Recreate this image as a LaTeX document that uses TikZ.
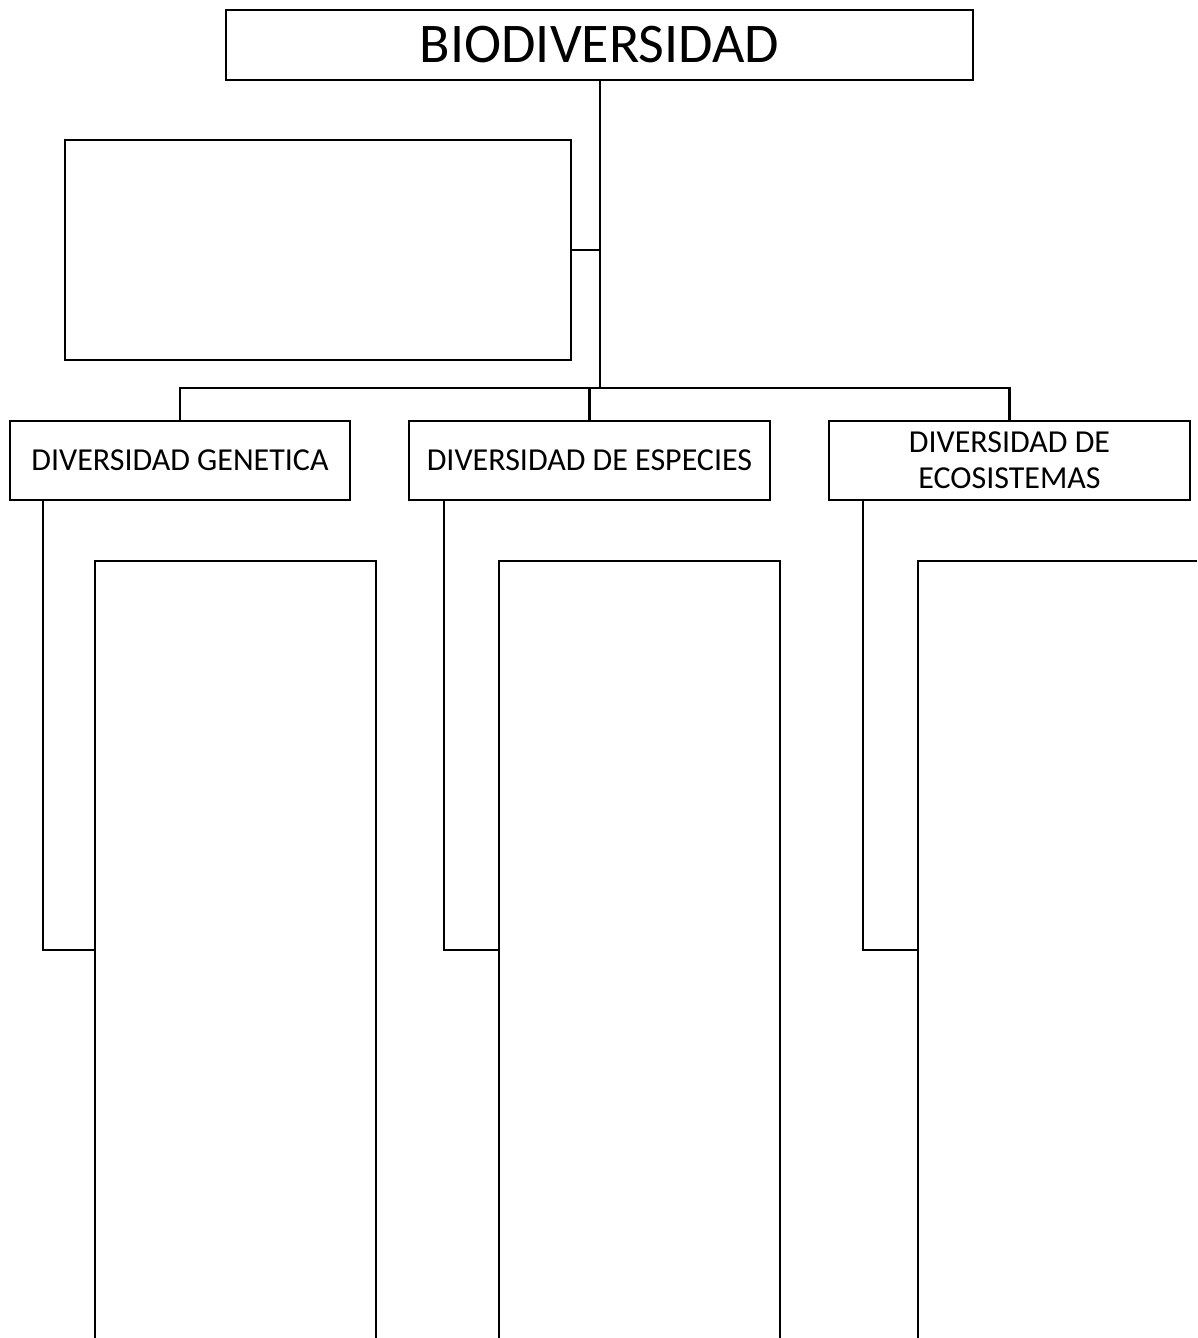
\documentclass[tikz,border=0pt]{standalone}
\usepackage{fontspec}
\setmainfont{Carlito}
\begin{document}
\begin{tikzpicture}[x=1pt,y=-1pt,
  ln/.style={line width=2.2pt,black},
  bx/.style={draw,ln,inner sep=0pt,anchor=center},
  small/.style={font=\fontsize{32}{36}\selectfont,align=center}]
\useasboundingbox (0,0) rectangle (1197,1338);
% top
\node[bx,minimum width=747,minimum height=70,font=\fontsize{56}{60}\selectfont] (top) at (599.5,45) {BIODIVERSIDAD};
\node[bx,minimum width=506,minimum height=220] (def) at (318,250) {};
\coordinate (j1) at (600,250);
\coordinate (j2) at (600,388);
\draw[ln,line width=2.6pt] (top.south -| j1) -- (j2);
\draw[ln] (def.east) -- (j1);
% level 2
\node[bx,small,minimum width=340,minimum height=79] (gen) at (180,460.5) {DIVERSIDAD GENETICA};
\node[bx,small,minimum width=361,minimum height=79] (esp) at (589.5,460.5) {DIVERSIDAD DE ESPECIES};
\node[bx,small,minimum width=361,minimum height=79] (eco) at (1009.5,460.5) {DIVERSIDAD DE\\ECOSISTEMAS};
\draw[ln] (gen.north) |- (j2) -| (eco.north);
\draw[ln] (esp.north) -- (esp.north |- j2);
% tall open boxes
\coordinate (t1) at (95,561); \coordinate (t1r) at (376,561);
\coordinate (t2) at (499,561); \coordinate (t2r) at (780,561);
\coordinate (t3) at (918,561); \coordinate (t3r) at (1197,561);
\draw[ln] (95,1338) -- (t1) -- (t1r) -- (376,1338);
\draw[ln] (499,1338) -- (t2) -- (t2r) -- (780,1338);
\draw[ln] (918,1338) -- (t3) -- (t3r);
% connectors
\coordinate (c1) at (95,950); \coordinate (c2) at (499,950); \coordinate (c3) at (918,950);
\draw[ln] (gen.south west) ++(34,0) coordinate (g1) -- (g1 |- c1) -- (c1);
\draw[ln] (esp.south west) ++(36,0) coordinate (e1) -- (e1 |- c2) -- (c2);
\draw[ln] (eco.south west) ++(35,0) coordinate (k1) -- (k1 |- c3) -- (c3);
\end{tikzpicture}
\end{document}
